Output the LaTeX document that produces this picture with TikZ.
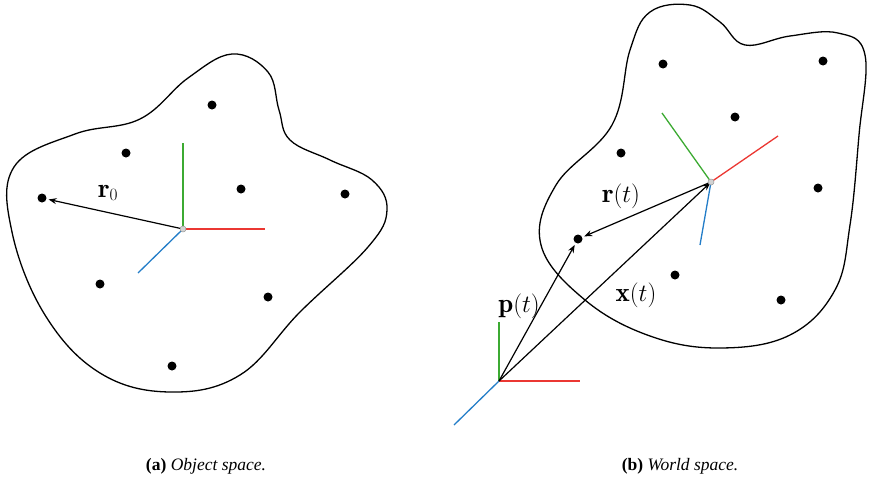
\documentclass[tikz,border=0pt]{standalone}
\usepackage{amsmath}
\usepackage{fontspec}
\newfontfamily\capfont{Liberation Serif}
\usetikzlibrary{arrows.meta}
\definecolor{axgreen}{RGB}{60,170,50}
\definecolor{axred}{RGB}{235,55,50}
\definecolor{axblue}{RGB}{35,125,200}
\tikzset{
  blob/.style={draw=black, line width=1.3pt, line join=round},
  pt/.style={circle, fill=black, inner sep=0pt, minimum size=9pt},
  axis/.style={line width=1.3pt},
  vec/.style={line width=1.2pt, -{Stealth[length=8pt,width=6pt]}, shorten >=2pt},
  com/.style={circle, draw=gray!80, fill=gray!35, line width=0.5pt, inner sep=0pt, minimum size=6pt},
  lab/.style={font=\fontsize{27}{31}\selectfont},
  captext/.style={font=\capfont\fontsize{17.5}{21}\selectfont}
}
\begin{document}
\begin{tikzpicture}[x=1pt,y=-1pt]
\useasboundingbox (0,0) rectangle (870,485);
% ---------- (a) object space ----------
\draw[blob] plot[smooth cycle, tension=0.65] coordinates {
 (232,54) (268,72) (279,110) (290,140) (330,160) (372,180) (387,210)
 (368,247) (300,312) (240,375) (170,392) (100,373) (45,315)
 (12,232) (14,167) (75,134) (140,119) (188,78)};
\node[pt] (a1) at (212,105) {};
\node[pt] (a2) at (126,153) {};
\node[pt] (a3) at (241,189) {};
\node[pt] (a4) at (345,194) {};
\node[pt] (a5) at (42,198) {};
\node[pt] (a6) at (100,284) {};
\node[pt] (a7) at (268,297) {};
\node[pt] (a8) at (172,366) {};
\coordinate (oA) at (183,229);
\coordinate (oAx) at (265,229);
\coordinate (oAy) at (183,143);
\coordinate (oAz) at (138,273);
\draw[axis, axred] (oA) -- (oAx);
\draw[axis, axgreen] (oA) -- (oAy);
\draw[axis, axblue] (oA) -- (oAz);
\draw[vec] (oA) -- (a5);
\node[com] (cA) at (oA) {};
\node[lab] (lr0) at (108,193) {$\mathbf{r}_0$};
% ---------- (b) world space ----------
\draw[blob] plot[smooth cycle, tension=0.65] coordinates {
 (690,5) (720,22) (745,45) (790,36) (838,33) (865,55)
 (859,135) (850,225) (835,290) (790,335) (720,348) (650,336)
 (585,300) (541,245) (556,185) (612,125) (630,50) (650,12)};
\node[pt] (b1) at (663,64) {};
\node[pt] (b2) at (823,61) {};
\node[pt] (b3) at (735,117) {};
\node[pt] (b4) at (621,153) {};
\node[pt] (b5) at (818,188) {};
\node[pt] (b6) at (578,239) {};
\node[pt] (b7) at (675,275) {};
\node[pt] (b8) at (781,300) {};
\coordinate (oB) at (711,182);
\coordinate (oBx) at (778,136);
\coordinate (oBy) at (662,113);
\coordinate (oBz) at (700,245);
\draw[axis, axred] (oB) -- (oBx);
\draw[axis, axgreen] (oB) -- (oBy);
\draw[axis, axblue] (oB) -- (oBz);
\coordinate (oW) at (499,381);
\coordinate (oWx) at (580,381);
\coordinate (oWy) at (499,322);
\coordinate (oWz) at (454,425);
\draw[axis, axred] (oW) -- (oWx);
\draw[axis, axgreen] (oW) -- (oWy);
\draw[axis, axblue] (oW) -- (oWz);
\draw[vec] (oB) -- (b6);
\draw[vec] (oW) -- (b6);
\draw[vec, shorten >=1pt] (oW) -- (oB);
\node[com] (cB) at (oB) {};
\node[lab] (lrt) at (621,196) {$\mathbf{r}(t)$};
\node[lab] (lxt) at (636,295) {$\mathbf{x}(t)$};
\node[lab] (lpt) at (519,306) {$\mathbf{p}(t)$};
% ---------- captions ----------
\node[captext] (capA) at (206,466) {\textbf{(a)} \textit{Object space.}};
\node[captext] (capB) at (680,466) {\textbf{(b)} \textit{World space.}};
\end{tikzpicture}
\end{document}
